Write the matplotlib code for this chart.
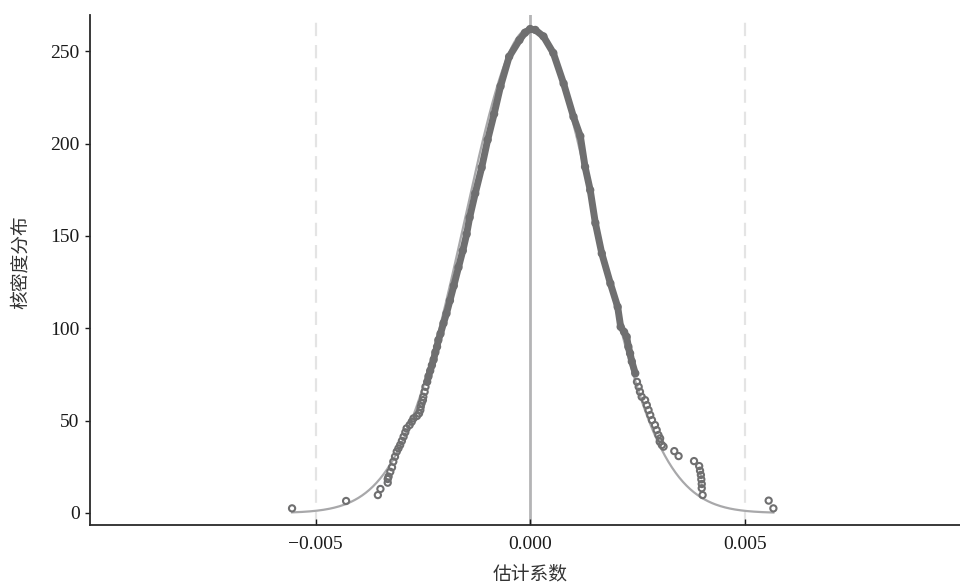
import numpy as np
import matplotlib
matplotlib.use("Agg")
import matplotlib.pyplot as plt

plt.rcParams['font.family'] = ['Liberation Serif', 'Noto Sans CJK SC']
plt.rcParams['axes.unicode_minus'] = True

# placebo estimates and their kernel density
kde_x = [-0.00555, -0.00429, -0.00355, -0.00349, -0.00332, -0.00332, -0.00330,
         -0.00326, -0.00322, -0.00319, -0.00315, -0.00311, -0.00307, -0.00303,
         -0.00299, -0.00295, -0.00291, -0.00288, -0.00281, -0.00276, -0.00272,
         -0.00264, -0.00259, -0.00256, -0.00255, -0.00253, -0.00250, -0.00249,
         -0.00246, -0.00244, -0.00240, -0.00237, -0.00233, -0.00229, -0.00225,
         -0.00221, -0.00217, -0.00214, -0.00209, -0.00202, -0.00195, -0.00187,
         -0.00178, -0.00167, -0.00157, -0.00148, -0.00141, -0.00128, -0.00113,
         -0.00099, -0.00084, -0.00069, -0.00049, -0.00025, -0.00012, 0.00000,
         0.00012, 0.00031, 0.00054, 0.00078, 0.00101, 0.00117, 0.00128, 0.00140,
         0.00152, 0.00167, 0.00187, 0.00204, 0.00211, 0.00219, 0.00225, 0.00229,
         0.00233, 0.00237, 0.00245, 0.00249, 0.00253, 0.00256, 0.00260, 0.00268,
         0.00272, 0.00276, 0.00280, 0.00284, 0.00291, 0.00295, 0.00299, 0.00303,
         0.00302, 0.00307, 0.00311, 0.00336, 0.00346, 0.00382, 0.00394, 0.00396,
         0.00398, 0.00399, 0.00400, 0.00400, 0.00402, 0.00556, 0.00567]
kde_y = [2.5, 6.5, 9.7, 13.0, 16.4, 18.4, 19.7,
         22.3, 24.7, 27.8, 30.5, 33.2, 35.0, 36.8,
         39.0, 41.3, 43.7, 45.8, 47.6, 49.4, 51.2,
         52.5, 53.9, 55.7, 57.5, 59.4, 61.1, 62.9,
         65.6, 68.3, 71.0, 74.0, 77.0, 80.0, 83.0,
         87.0, 90.0, 93.6, 97.0, 102.7, 108.0, 115.0,
         123.0, 133.0, 142.0, 151.0, 160.0, 173.0, 187.0,
         202.0, 216.0, 231.0, 247.0, 256.0, 260.0, 262.0,
         261.5, 258.0, 249.0, 232.5, 214.5, 204.0, 187.4, 174.8,
         157.0, 140.5, 124.3, 111.6, 100.8, 98.0, 95.4, 90.0,
         86.4, 82.0, 75.6, 71.0, 68.3, 65.6, 62.9, 61.1,
         58.4, 55.7, 53.0, 50.3, 47.6, 44.9, 42.2, 40.4,
         38.6, 36.8, 35.9, 33.5, 30.8, 28.1, 25.4, 22.9,
         20.6, 18.2, 15.7, 13.4, 9.7, 6.7, 2.5]

# fitted normal curve
norm_mean = 0.0
norm_sd = 0.00152
x_min, x_max = -0.00555, 0.00567

xticks = [-0.005, 0.0, 0.005]
xtick_labels = ['\u22120.005', '0.000', '0.005']
yticks = [0, 50, 100, 150, 200, 250]

fig = plt.figure(figsize=(9.6, 5.83), dpi=100)
ax = fig.add_axes([0.09375, 0.0995, 0.90625, 0.8745])

grey = '#6f6f70'

xs = np.linspace(x_min, x_max, 400)
ns = np.exp(-0.5 * ((xs - norm_mean) / norm_sd) ** 2) / (norm_sd * np.sqrt(2 * np.pi))

for v in (-0.005, 0.005):
    ax.axvline(v, color='#e4e4e4', lw=1.6, ls=(0, (6, 4)), zorder=1)
ax.axvline(0, color='#b4b4b6', lw=2.0, zorder=1)

ax.plot(xs, ns, color='#a8a8aa', lw=1.6, zorder=2)

kx = np.array(kde_x)
ky = np.array(kde_y)
core = (kx > -0.00242) & (kx < 0.00247)
ax.plot(kx[core], ky[core], color=grey, lw=5.0, solid_capstyle='round',
        solid_joinstyle='round', zorder=3)
ax.scatter(kx, ky, s=20, facecolors='none', edgecolors=grey, linewidths=1.5, zorder=4)

ax.set_xlim(-0.01026, 0.01002)
ax.set_ylim(-6.5, 269.5)

ax.set_xticks(xticks)
ax.set_xticklabels(xtick_labels)
ax.set_yticks(yticks)

for s in ('top', 'right'):
    ax.spines[s].set_visible(False)
for s in ('left', 'bottom'):
    ax.spines[s].set_color('#2a2a2a')
    ax.spines[s].set_linewidth(1.3)

ax.tick_params(axis='x', direction='in', length=4, width=1.0, pad=8,
               labelsize=14, colors='#1a1a1a')
ax.tick_params(axis='y', direction='out', length=3.5, width=1.0, pad=4,
               labelsize=14, colors='#1a1a1a')

ax.set_ylabel('核密度分布', family=['Noto Sans CJK SC', 'DejaVu Sans'],
              fontsize=13.5, color='#333333')
ax.yaxis.set_label_coords(-0.068, 0.515)
ax.set_xlabel('估计系数', family=['Noto Sans CJK SC', 'DejaVu Sans'],
              fontsize=13.5, color='#333333')
ax.xaxis.set_label_coords(0.506, -0.076)

fig.savefig('out.png', dpi=100)
